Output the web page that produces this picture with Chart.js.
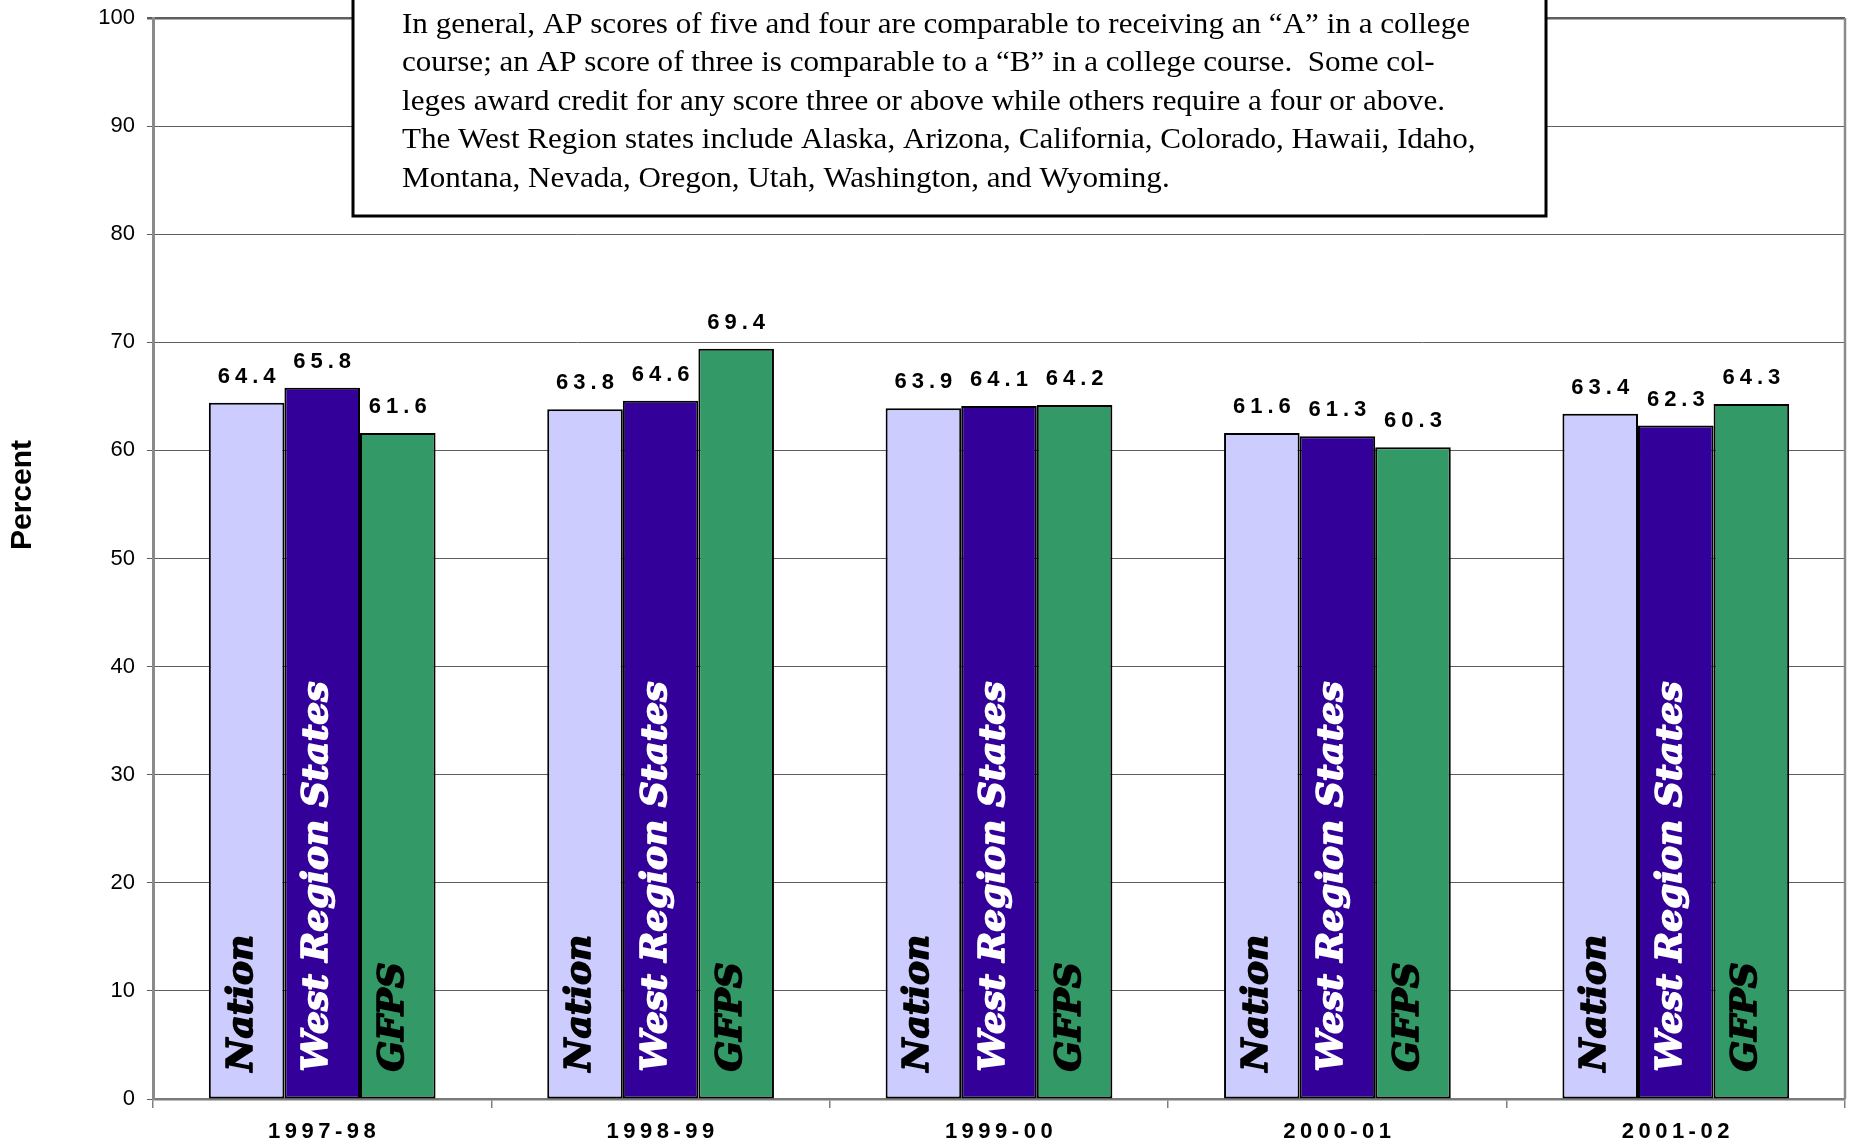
<!DOCTYPE html>
<html>
<head>
<meta charset="utf-8">
<script src="https://cdn.jsdelivr.net/npm/chart.js@4.4.1/dist/chart.umd.min.js"></script>
<style>
  html, body { margin: 0; padding: 0; background: #ffffff; }
  #wrap { width: 1853px; height: 1142px; }
</style>
</head>
<body>
<div id="wrap"><canvas id="chart" width="1853" height="1142"></canvas></div>
<script>
// School years on the category axis
const categories = ['1997-98', '1998-99', '1999-00', '2000-01', '2001-02'];

// Series names (also written vertically inside each bar)
const seriesNames = ['Nation', 'West Region States', 'GFPS'];

// Percent of AP exams scoring three or above
const nation     = [64.4, 63.8, 63.9, 61.6, 63.4];
const westRegion = [65.8, 64.6, 64.1, 61.3, 62.3];
const gfps       = [61.6, 69.4, 64.2, 60.3, 64.3];

// Y-axis range and step
const yTicks = { min: 0, max: 100, step: 10 };

// Axis title
const yTitle = 'Percent';

// Explanatory note shown in the box at the top of the chart
const noteLines = [
  'In general, AP scores of five and four are comparable to receiving an \u201CA\u201D in a college',
  'course; an AP score of three is comparable to a \u201CB\u201D in a college course.  Some col-',
  'leges award credit for any score three or above while others require a four or above.',
  'The West Region states include Alaska, Arizona, California, Colorado, Hawaii, Idaho,',
  'Montana, Nevada, Oregon, Utah, Washington, and Wyoming.'
];

const SANS = '"Liberation Sans", Arial, sans-serif';
const SERIF = '"Liberation Serif", "Times New Roman", serif';
const POSTER = '"DejaVu Serif", serif';

const seriesColors = ['#CCCCFF', '#330099', '#339966'];
const nameColors = ['#000000', '#ffffff', '#000000'];

// Extra drawing: value labels, names inside bars, category labels, note box
const decorations = {
  id: 'decorations',
  beforeDatasetsDraw(chart) {
    const { ctx, chartArea: a } = chart;
    ctx.save();
    // right edge of the plot frame
    ctx.strokeStyle = '#8a8a8a';
    ctx.lineWidth = 2.5;
    ctx.beginPath();
    ctx.moveTo(a.right, a.top);
    ctx.lineTo(a.right, a.bottom);
    ctx.stroke();

    // y-axis title
    ctx.translate(23, 495);
    ctx.rotate(-Math.PI / 2);
    ctx.font = 'bold 30px ' + SANS;
    ctx.fillStyle = '#000';
    ctx.textAlign = 'center';
    ctx.textBaseline = 'middle';
    ctx.fillText(yTitle, 0, 0);
    ctx.restore();
  },
  afterDatasetsDraw(chart) {
    const { ctx } = chart;
    ctx.save();

    chart.data.datasets.forEach((ds, di) => {
      const meta = chart.getDatasetMeta(di);
      meta.data.forEach((bar, i) => {
        // value above bar
        ctx.save();
        ctx.font = 'bold 22px ' + SANS;
        ctx.fillStyle = '#000';
        ctx.textAlign = 'center';
        ctx.textBaseline = 'alphabetic';
        ctx.letterSpacing = '5px';
        ctx.fillText(ds.data[i].toFixed(1), bar.x + 2.5, bar.y - 20);
        ctx.restore();

        // series name written upward inside the bar
        ctx.save();
        ctx.translate(bar.x + 5, bar.base - 27);
        ctx.rotate(-Math.PI / 2);
        ctx.font = 'italic bold 36px ' + POSTER;
        ctx.fillStyle = nameColors[di];
        ctx.strokeStyle = nameColors[di];
        ctx.lineWidth = 1.6;
        ctx.lineJoin = 'round';
        ctx.textAlign = 'left';
        ctx.textBaseline = 'alphabetic';
        ctx.fillText(ds.label, 0, 0);
        ctx.strokeText(ds.label, 0, 0);
        ctx.restore();
      });
    });

    // category labels under the axis
    const xs = chart.scales.x;
    ctx.font = 'bold 22px ' + SANS;
    ctx.fillStyle = '#000';
    ctx.textAlign = 'center';
    ctx.textBaseline = 'alphabetic';
    ctx.letterSpacing = '4.5px';
    categories.forEach((c, i) => {
      ctx.fillText(c, xs.getPixelForValue(i) + 2, 1138);
    });
    ctx.letterSpacing = '0px';
    ctx.restore();
  },
  afterDraw(chart) {
    const { ctx } = chart;
    ctx.save();
    // note box
    const bx = 353, by = -10, bw = 1546 - 353, bh = 216 + 10;
    ctx.fillStyle = '#ffffff';
    ctx.fillRect(bx, by, bw, bh);
    ctx.strokeStyle = '#000';
    ctx.lineWidth = 3;
    ctx.strokeRect(bx, by, bw, bh);

    ctx.font = '30px ' + SERIF;
    ctx.fillStyle = '#000';
    ctx.textAlign = 'left';
    ctx.textBaseline = 'alphabetic';
    const target = 1068;
    const sx = target / ctx.measureText(noteLines[0]).width;
    noteLines.forEach((line, i) => {
      ctx.save();
      ctx.translate(402, 33 + i * 38.4);
      ctx.scale(sx, 1);
      ctx.fillText(line, 0, 0);
      ctx.restore();
    });
    ctx.restore();
  }
};

const seriesData = [nation, westRegion, gfps];

new Chart(document.getElementById('chart'), {
  type: 'bar',
  data: {
    labels: categories,
    datasets: seriesNames.map((name, i) => ({
      label: name,
      data: seriesData[i],
      backgroundColor: seriesColors[i],
      borderColor: '#000000',
      borderWidth: 2,
      borderSkipped: false,
      barPercentage: 1.0,
      categoryPercentage: 0.67
    }))
  },
  options: {
    responsive: false,
    animation: false,
    devicePixelRatio: 1,
    layout: { padding: { top: 18, right: 8, left: 0, bottom: 0 } },
    plugins: {
      legend: { display: false },
      tooltip: { enabled: false }
    },
    scales: {
      x: {
        offset: true,
        grid: {
          offset: true,
          drawOnChartArea: false,
          drawTicks: true,
          tickLength: 9,
          color: '#808080',
          lineWidth: 1.5
        },
        border: { color: '#7a7a7a', width: 2.5 },
        ticks: { display: false },
        afterFit: s => { s.height = 43; }
      },
      y: {
        min: yTicks.min,
        max: yTicks.max,
        ticks: {
          stepSize: yTicks.step,
          padding: 12,
          color: '#000',
          font: { family: SANS, size: 22, lineHeight: 0.5 }
        },
        grid: {
          color: '#5e5e5e',
          lineWidth: c => (c.tick && c.tick.value === yTicks.max ? 2.5 : 1),
          tickLength: 6
        },
        border: { color: '#8a8a8a', width: 3 },
        afterFit: s => { s.width = 153; }
      }
    }
  },
  plugins: [decorations]
});
</script>
</body>
</html>
